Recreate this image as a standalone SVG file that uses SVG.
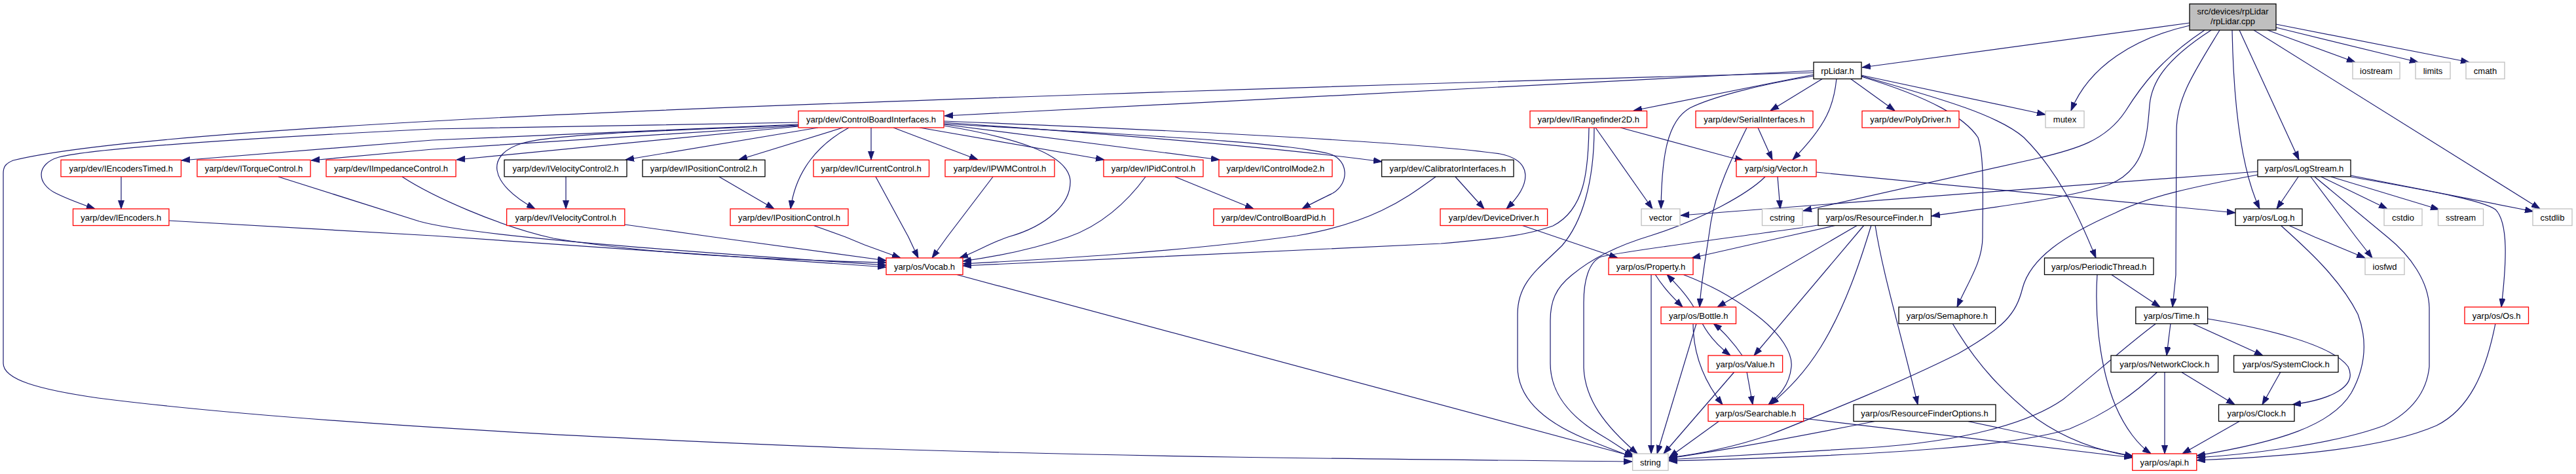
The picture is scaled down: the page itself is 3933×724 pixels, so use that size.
<svg xmlns="http://www.w3.org/2000/svg" width="3933" height="724" viewBox="0 0 3933 724">
<defs>
<marker id="a" markerWidth="13" markerHeight="10" refX="13" refY="5" orient="auto" markerUnits="userSpaceOnUse"><path d="M0,0.5 L13,5 L0,9.5 z" fill="#191970" stroke="#191970" stroke-width="1"/></marker>
<style>
rect{fill:#fff;stroke-width:1.3}
.r rect{stroke:#ff0000}
.b rect{stroke:#000}
.g rect{stroke:#bfbfbf}
text{font-family:"Liberation Sans",Arial,sans-serif;font-size:13px;fill:#000;text-anchor:middle}
#edges path{fill:none;stroke:#191970;stroke-width:1.2;marker-end:url(#a)}
</style>
</defs>
<rect x="0" y="0" width="3933" height="724" fill="#fff" stroke="none"/>
<g id="edges">
<path d="M3343,35 L2843,103"/>
<path d="M3462,46 L3596,95"/>
<path d="M3475,42 L3692,95"/>
<path d="M3475,37 L3770,95"/>
<path d="M3419,46 L3510,244"/>
<path d="M3408,46 C3410,150 3420,255 3450,319"/>
<path d="M3441,46 L3878,319"/>
<path d="M3389,46 C3350,110 3323,150 3323,200 L3322,420 L3317,469"/>
<path d="M3343,39 C3260,58 3190,100 3162,169"/>
<path d="M3366,46 C3300,90 3270,130 3245,170 C3215,215 3170,228 3110,242 L2753,322"/>
<path d="M3376,46 C3300,95 3285,130 3282,160 C3278,210 3275,260 3220,282 C3150,305 3030,318 2949,330"/>
<path d="M2769,108 L1442,177"/>
<path d="M2769,111 C2200,126 1100,160 660,185 C300,205 100,225 20,245 C8,250 5,255 5,265 L5,555 C5,580 60,595 150,608 C400,640 800,665 1320,685 C1800,700 2200,702 2492,705"/>
<path d="M2769,114 L2494,169"/>
<path d="M2769,116 C2680,130 2610,150 2580,165 C2545,185 2537,240 2536,319"/>
<path d="M2783,120 L2703,169"/>
<path d="M2804,120 C2800,160 2790,190 2737,244"/>
<path d="M2825,120 L2893,169"/>
<path d="M2842,115 L3123,175"/>
<path d="M2842,117 C2950,150 3000,180 3020,210 C3030,240 3027,300 3027,362 C3027,400 3005,430 2988,469"/>
<path d="M2842,116 C2960,150 3050,175 3090,210 C3140,260 3170,320 3200,394"/>
<path d="M1219,187 L660,197 C400,210 150,225 90,240 C55,250 55,280 85,295 C105,305 125,312 145,319"/>
<path d="M1219,190 L660,214 L277,245"/>
<path d="M1219,192 L660,228 L475,245"/>
<path d="M1219,193 L697,244"/>
<path d="M1249,195 L955,244"/>
<path d="M1287,195 L1128,244"/>
<path d="M1296,195 C1250,220 1215,260 1207,319"/>
<path d="M1219,191 C1000,200 850,205 800,218 C740,235 745,280 817,319"/>
<path d="M1330,195 L1330,244"/>
<path d="M1364,195 L1493,244"/>
<path d="M1404,195 L1686,244"/>
<path d="M1441,190 L1862,244"/>
<path d="M1441,187 C1700,205 1950,225 2110,247"/>
<path d="M1441,189 C1700,205 1950,215 2030,235 C2060,245 2060,280 2035,295 C2015,305 2000,312 1988,319"/>
<path d="M1441,185 C1700,195 2150,215 2290,235 C2340,245 2340,280 2300,319"/>
<path d="M1441,192 C1550,210 1630,235 1634,275 C1636,310 1600,345 1539,362 C1510,372 1490,385 1465,394"/>
<path d="M185,270 L185,319"/>
<path d="M425,270 L640,338 C700,355 900,375 1353,405"/>
<path d="M614,270 C660,300 760,345 845,364 C1000,390 1200,397 1353,401"/>
<path d="M258,337 L660,360 L1353,408"/>
<path d="M954,343 L1089,362 L1353,398"/>
<path d="M1241,344 L1291,362 L1320,374 L1375,394"/>
<path d="M864,270 L864,319"/>
<path d="M1098,270 L1182,319"/>
<path d="M1337,270 L1387,362 L1402,394"/>
<path d="M1516,270 L1446,362 L1423,394"/>
<path d="M1749,270 C1720,310 1680,345 1631,362 C1580,380 1520,392 1470,399"/>
<path d="M1794,270 L1914,319"/>
<path d="M2192,270 C2150,300 2100,340 1980,360 C1800,385 1600,396 1470,403"/>
<path d="M2222,270 L2266,319"/>
<path d="M2426,195 C2425,260 2420,320 2371,345 C2330,360 2280,365 2200,372 L1470,406"/>
<path d="M2434,195 C2434,280 2415,340 2385,375 C2350,410 2317,430 2317,480 L2317,560 C2317,610 2360,645 2420,670 C2450,682 2470,690 2493,698"/>
<path d="M2436,195 L2523,319"/>
<path d="M2474,195 L2640,240 L2662,245"/>
<path d="M2684,195 L2706,244"/>
<path d="M2667,195 C2645,240 2620,290 2612,340 C2605,390 2597,430 2595,469"/>
<path d="M2714,270 L2718,319"/>
<path d="M2695,270 C2670,295 2600,335 2520,360 C2470,375 2430,395 2400,420 C2375,440 2367,460 2367,490 L2367,555 C2367,610 2410,645 2450,668 C2470,680 2480,688 2494,696"/>
<path d="M2773,263 L3413,325"/>
<path d="M3509,270 L3476,319"/>
<path d="M3544,270 L3645,319"/>
<path d="M3559,270 L3724,320"/>
<path d="M3589,268 L3868,323"/>
<path d="M3589,270 C3700,290 3790,305 3810,320 C3830,340 3827,400 3819,469"/>
<path d="M3528,270 L3597,362 L3622,394"/>
<path d="M3534,270 L3645,362 C3680,390 3708,430 3709,470 L3709,560 C3705,600 3680,630 3640,650 C3560,680 3420,695 3354,699"/>
<path d="M3447,262 L2566,329"/>
<path d="M3447,267 C3350,285 3280,300 3230,325 C3150,360 3100,395 3088,440 C3078,480 3060,500 2990,540 C2900,585 2800,625 2700,665 C2640,685 2590,694 2548,699"/>
<path d="M3494,344 L3534,362 L3611,394"/>
<path d="M3482,344 C3510,370 3570,420 3600,480 C3615,520 3612,560 3590,600 C3560,650 3480,675 3354,696"/>
<path d="M3810,494 C3795,570 3770,625 3720,650 C3640,685 3500,697 3354,703"/>
<path d="M2776,344 C2700,356 2500,380 2445,392 C2425,400 2418,430 2418,462 L2418,562 C2420,610 2450,650 2500,693"/>
<path d="M2804,344 L2724,362 L2583,394"/>
<path d="M2836,344 L2622,469"/>
<path d="M2846,344 L2678,543"/>
<path d="M2857,344 C2840,400 2817,470 2780,530 C2755,570 2730,595 2703,618"/>
<path d="M2863,344 C2875,420 2900,500 2928,618"/>
<path d="M2521,419 L2521,693"/>
<path d="M2527,419 C2540,440 2555,455 2569,469"/>
<path d="M2586,469 C2575,450 2560,435 2545,419"/>
<path d="M2569,419 C2610,435 2640,450 2680,480 C2720,510 2737,540 2735,560 C2732,590 2715,605 2700,618"/>
<path d="M2323,344 L2470,394"/>
<path d="M1459,419 L2493,697"/>
<path d="M2590,494 L2530,693"/>
<path d="M2599,494 C2610,515 2625,530 2642,543"/>
<path d="M2660,543 C2648,525 2630,505 2616,494"/>
<path d="M2585,494 C2585,540 2600,580 2630,618"/>
<path d="M2648,568 L2540,693"/>
<path d="M2667,568 L2676,618"/>
<path d="M2625,643 L2549,698"/>
<path d="M2753,639 L3256,699"/>
<path d="M2865,643 C2780,660 2650,685 2548,700"/>
<path d="M3002,643 L3257,697"/>
<path d="M2981,494 C3020,560 3060,600 3110,640 C3160,675 3210,690 3257,697"/>
<path d="M3223,419 L3298,469"/>
<path d="M3202,419 C3198,480 3205,560 3230,620 C3245,655 3265,680 3284,693"/>
<path d="M3314,494 L3308,543"/>
<path d="M3347,494 L3455,543"/>
<path d="M3371,487 C3450,500 3560,525 3585,560 C3600,590 3560,610 3500,618"/>
<path d="M3292,494 C3250,525 3200,570 3150,610 C3100,645 3000,675 2850,684 C2750,690 2640,697 2548,702"/>
<path d="M3294,568 C3260,600 3220,630 3160,655 C3080,680 2900,695 2548,704"/>
<path d="M3330,568 L3412,618"/>
<path d="M3305,568 L3305,693"/>
<path d="M3482,568 L3454,618"/>
<path d="M3420,643 L3332,693"/>
</g>
<g id="n_root"><rect x="3343" y="6" width="132" height="40" style="fill:#bfbfbf;stroke:#000"/><text x="3409" y="22">src/devices/rpLidar</text><text x="3409" y="37">/rpLidar.cpp</text></g>
<g id="n_rplidar" class="b"><rect x="2769" y="95" width="73" height="25.5"/><text x="2805.5" y="112.5">rpLidar.h</text></g>
<g id="n_iostream" class="g"><rect x="3592" y="95" width="72" height="25.5"/><text x="3628" y="112.5">iostream</text></g>
<g id="n_limits" class="g"><rect x="3688" y="95" width="53" height="25.5"/><text x="3714.5" y="112.5">limits</text></g>
<g id="n_cmath" class="g"><rect x="3765" y="95" width="59" height="25.5"/><text x="3794.5" y="112.5">cmath</text></g>
<g id="n_cbi" class="r"><rect x="1219" y="169.5" width="222" height="25.5"/><text x="1330" y="187">yarp/dev/ControlBoardInterfaces.h</text></g>
<g id="n_irange" class="r"><rect x="2336" y="169.5" width="178.5" height="25.5"/><text x="2425.2" y="187">yarp/dev/IRangefinder2D.h</text></g>
<g id="n_serial" class="r"><rect x="2589" y="169.5" width="179" height="25.5"/><text x="2678.5" y="187">yarp/dev/SerialInterfaces.h</text></g>
<g id="n_poly" class="r"><rect x="2843" y="169.5" width="148" height="25.5"/><text x="2917" y="187">yarp/dev/PolyDriver.h</text></g>
<g id="n_mutex" class="g"><rect x="3123" y="169.5" width="59" height="25.5"/><text x="3152.5" y="187">mutex</text></g>
<g id="n_enctimed" class="r"><rect x="93" y="244.3" width="183.5" height="25.5"/><text x="184.7" y="261.8">yarp/dev/IEncodersTimed.h</text></g>
<g id="n_torque" class="r"><rect x="301" y="244.3" width="173" height="25.5"/><text x="387.5" y="261.8">yarp/dev/ITorqueControl.h</text></g>
<g id="n_imped" class="r"><rect x="498" y="244.3" width="198" height="25.5"/><text x="597" y="261.8">yarp/dev/IImpedanceControl.h</text></g>
<g id="n_vel2" class="b"><rect x="770" y="244.3" width="187" height="25.5"/><text x="863.5" y="261.8">yarp/dev/IVelocityControl2.h</text></g>
<g id="n_pos2" class="b"><rect x="981" y="244.3" width="187" height="25.5"/><text x="1074.5" y="261.8">yarp/dev/IPositionControl2.h</text></g>
<g id="n_current" class="r"><rect x="1242" y="244.3" width="176.5" height="25.5"/><text x="1330.2" y="261.8">yarp/dev/ICurrentControl.h</text></g>
<g id="n_pwm" class="r"><rect x="1443" y="244.3" width="167" height="25.5"/><text x="1526.5" y="261.8">yarp/dev/IPWMControl.h</text></g>
<g id="n_pid" class="r"><rect x="1685" y="244.3" width="152" height="25.5"/><text x="1761" y="261.8">yarp/dev/IPidControl.h</text></g>
<g id="n_cmode2" class="r"><rect x="1861" y="244.3" width="173" height="25.5"/><text x="1947.5" y="261.8">yarp/dev/IControlMode2.h</text></g>
<g id="n_calib" class="b"><rect x="2109.6" y="244.3" width="201.4" height="25.5"/><text x="2210.3" y="261.8">yarp/dev/CalibratorInterfaces.h</text></g>
<g id="n_sigvector" class="r"><rect x="2651" y="244.3" width="122" height="25.5"/><text x="2712" y="261.8">yarp/sig/Vector.h</text></g>
<g id="n_logstream" class="b"><rect x="3447" y="244.3" width="142" height="25.5"/><text x="3518" y="261.8">yarp/os/LogStream.h</text></g>
<g id="n_enc" class="r"><rect x="111.5" y="319" width="146.5" height="25.5"/><text x="184.7" y="336.5">yarp/dev/IEncoders.h</text></g>
<g id="n_vel" class="r"><rect x="773.6" y="319" width="180.2" height="25.5"/><text x="863.7" y="336.5">yarp/dev/IVelocityControl.h</text></g>
<g id="n_pos" class="r"><rect x="1115" y="319" width="180" height="25.5"/><text x="1205" y="336.5">yarp/dev/IPositionControl.h</text></g>
<g id="n_cbpid" class="r"><rect x="1853" y="319" width="183" height="25.5"/><text x="1944.5" y="336.5">yarp/dev/ControlBoardPid.h</text></g>
<g id="n_devdrv" class="r"><rect x="2199" y="319" width="163.6" height="25.5"/><text x="2280.8" y="336.5">yarp/dev/DeviceDriver.h</text></g>
<g id="n_vector" class="g"><rect x="2506" y="319" width="59" height="25.5"/><text x="2535.5" y="336.5">vector</text></g>
<g id="n_cstring" class="g"><rect x="2690.5" y="319" width="61.5" height="25.5"/><text x="2721.2" y="336.5">cstring</text></g>
<g id="n_rf" class="b"><rect x="2776" y="319" width="172.5" height="25.5"/><text x="2862.2" y="336.5">yarp/os/ResourceFinder.h</text></g>
<g id="n_log" class="b"><rect x="3413" y="319" width="102" height="25.5"/><text x="3464" y="336.5">yarp/os/Log.h</text></g>
<g id="n_cstdio" class="g"><rect x="3640" y="319" width="58" height="25.5"/><text x="3669" y="336.5">cstdio</text></g>
<g id="n_sstream" class="g"><rect x="3722.5" y="319" width="69" height="25.5"/><text x="3757" y="336.5">sstream</text></g>
<g id="n_cstdlib" class="g"><rect x="3867" y="319" width="60" height="25.5"/><text x="3897" y="336.5">cstdlib</text></g>
<g id="n_vocab" class="r"><rect x="1353" y="394" width="117" height="25.5"/><text x="1411.5" y="411.5">yarp/os/Vocab.h</text></g>
<g id="n_property" class="r"><rect x="2456" y="394" width="129" height="25.5"/><text x="2520.5" y="411.5">yarp/os/Property.h</text></g>
<g id="n_periodic" class="b"><rect x="3121.5" y="394" width="166.5" height="25.5"/><text x="3204.7" y="411.5">yarp/os/PeriodicThread.h</text></g>
<g id="n_iosfwd" class="g"><rect x="3611" y="394" width="60" height="25.5"/><text x="3641" y="411.5">iosfwd</text></g>
<g id="n_bottle" class="r"><rect x="2536" y="469" width="114.5" height="25.5"/><text x="2593.2" y="486.5">yarp/os/Bottle.h</text></g>
<g id="n_semaphore" class="b"><rect x="2899" y="469" width="147.6" height="25.5"/><text x="2972.8" y="486.5">yarp/os/Semaphore.h</text></g>
<g id="n_time" class="b"><rect x="3260.8" y="469" width="109.8" height="25.5"/><text x="3315.7" y="486.5">yarp/os/Time.h</text></g>
<g id="n_os" class="r"><rect x="3763" y="469" width="97.5" height="25.5"/><text x="3811.7" y="486.5">yarp/os/Os.h</text></g>
<g id="n_value" class="r"><rect x="2608" y="543" width="113.6" height="25.5"/><text x="2664.8" y="560.5">yarp/os/Value.h</text></g>
<g id="n_netclock" class="b"><rect x="3223" y="543" width="163.6" height="25.5"/><text x="3304.8" y="560.5">yarp/os/NetworkClock.h</text></g>
<g id="n_sysclock" class="b"><rect x="3410.6" y="543" width="159.4" height="25.5"/><text x="3490.3" y="560.5">yarp/os/SystemClock.h</text></g>
<g id="n_searchable" class="r"><rect x="2608" y="618" width="145.6" height="25.5"/><text x="2680.8" y="635.5">yarp/os/Searchable.h</text></g>
<g id="n_rfopts" class="b"><rect x="2830" y="618" width="217" height="25.5"/><text x="2938.5" y="635.5">yarp/os/ResourceFinderOptions.h</text></g>
<g id="n_clock" class="b"><rect x="3387.5" y="618" width="115.5" height="25.5"/><text x="3445.2" y="635.5">yarp/os/Clock.h</text></g>
<g id="n_string" class="g"><rect x="2492.6" y="693" width="54.4" height="25.5"/><text x="2519.8" y="710.5">string</text></g>
<g id="n_api" class="r"><rect x="3255.7" y="693" width="98.1" height="25.5"/><text x="3304.7" y="710.5">yarp/os/api.h</text></g>
</svg>
